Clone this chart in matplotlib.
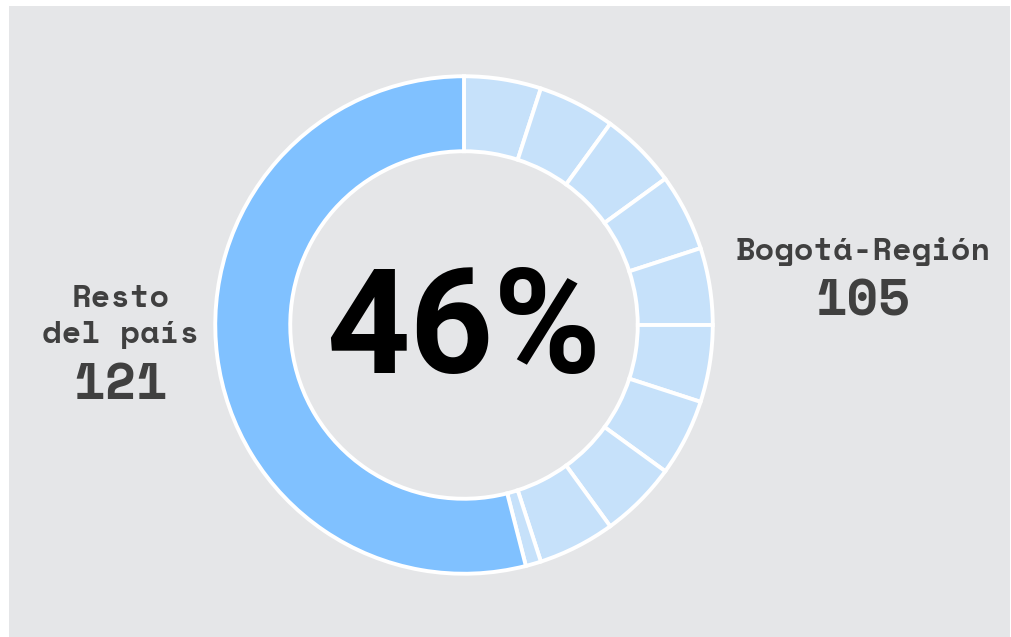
import matplotlib.pyplot as plt
from matplotlib.patches import Rectangle

# data
total_labels = ['Bogotá-Región', 'Resto del país']
total_values = [105, 121]
center_text = '46%'
# Bogotá share is drawn as blocks of 5 percentage points + the remainder
bogota_blocks_pct = [5, 5, 5, 5, 5, 5, 5, 5, 5, 1]
resto_pct = [54]

bg = '#E5E6E8'
light = '#C6E1FA'
strong = '#80C1FF'
label_col = '#404040'

W, H = 1012, 637
fig = plt.figure(figsize=(W / 100, H / 100), dpi=100, facecolor='white')
fig.patches.append(Rectangle((9 / W, 0), 1001 / W, 631 / H, transform=fig.transFigure,
                             facecolor=bg, edgecolor='none', zorder=-5))

cx, cy, r = 464, 325, 250
ax = fig.add_axes([(cx - r) / W, (H - cy - r) / H, 2 * r / W, 2 * r / H])
ax.patch.set_alpha(0)

vals = bogota_blocks_pct + resto_pct
colors = [light] * len(bogota_blocks_pct) + [strong] * len(resto_pct)
ax.pie(vals, colors=colors, startangle=90, counterclock=False, radius=0.995,
       wedgeprops=dict(width=0.3, edgecolor='white', linewidth=2.8))
ax.set_aspect('equal')
ax.set_xlim(-1, 1)
ax.set_ylim(-1, 1)
ax.axis('off')

# big centre number
fig.text(cx / W, 1 - 333 / H, center_text, ha='center', va='center',
         fontsize=105, fontweight='bold', family=['Roboto', 'DejaVu Sans'], color='black')

mono = ['Space Mono', 'DejaVu Sans Mono']
fig.text(121 / W, 1 - 299 / H, 'Resto', ha='center', va='center',
         fontsize=23, fontweight='bold', family=mono, color=label_col)
fig.text(121 / W, 1 - 335 / H, 'del país', ha='center', va='center',
         fontsize=23, fontweight='bold', family=mono, color=label_col)
fig.text(121 / W, 1 - 386 / H, str(total_values[1]), ha='center', va='center',
         fontsize=37, fontweight='bold', family=mono, color=label_col)

fig.text(863 / W, 1 - 252 / H, total_labels[0], ha='center', va='center',
         fontsize=23, fontweight='bold', family=mono, color=label_col)
fig.text(863 / W, 1 - 303 / H, str(total_values[0]), ha='center', va='center',
         fontsize=37, fontweight='bold', family=mono, color=label_col)

fig.savefig('out.png', dpi=100, facecolor='white')
